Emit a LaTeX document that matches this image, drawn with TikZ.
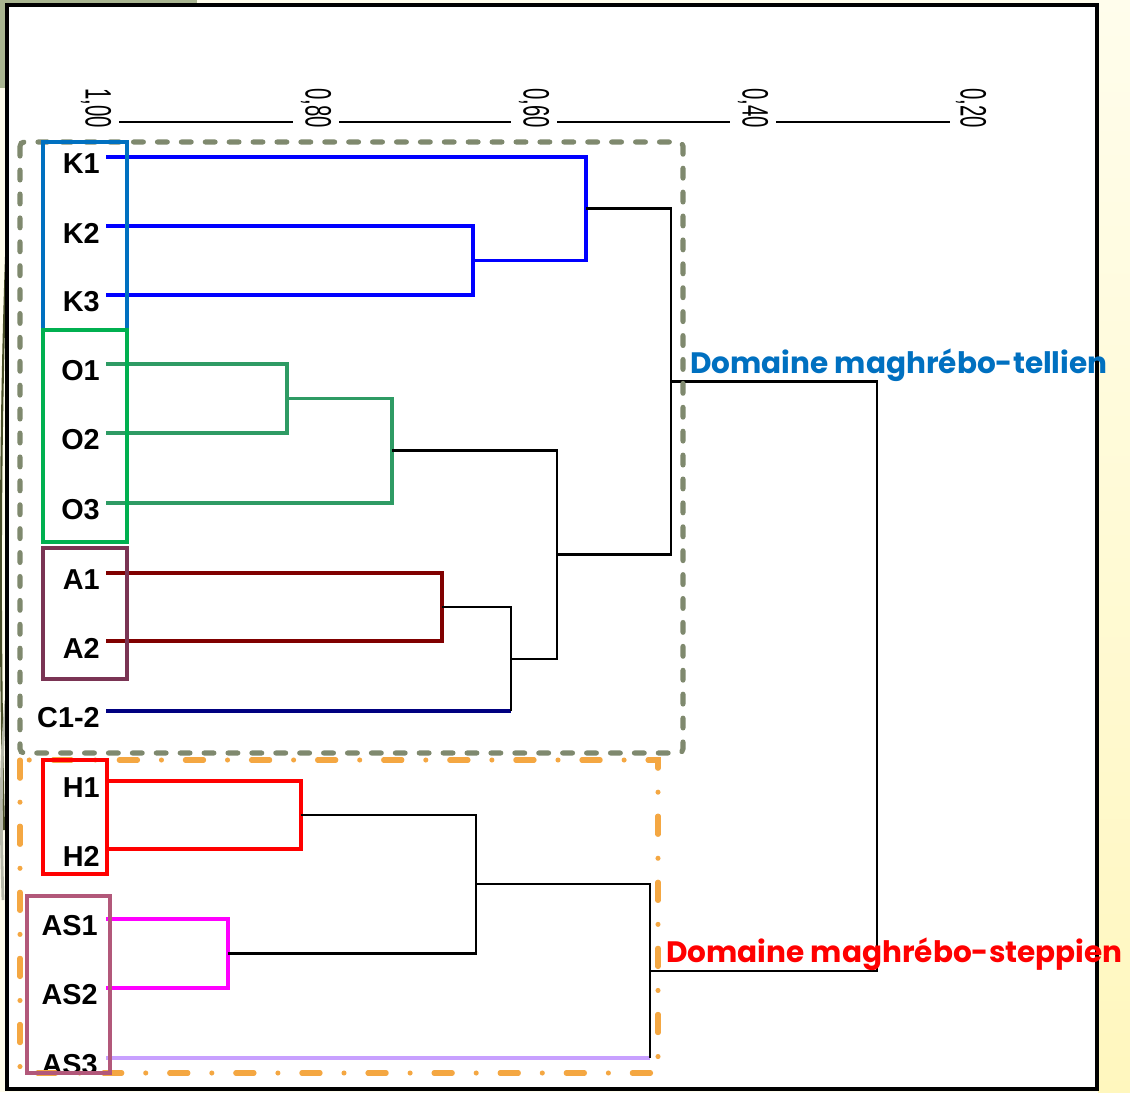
\documentclass[tikz,border=0pt]{standalone}
\usepackage{fontspec}
\setmainfont{Liberation Sans}
\newfontfamily\domfont{Poppins}
\usetikzlibrary{calc}
\definecolor{bandgreen}{RGB}{169,181,144}
\definecolor{paleyellow}{RGB}{255,253,236}
\definecolor{olivedark}{RGB}{72,78,40}
\definecolor{grpgray}{RGB}{127,137,110}
\definecolor{grporange}{RGB}{244,167,66}
\definecolor{kframe}{RGB}{0,112,192}
\definecolor{oframe}{RGB}{0,176,80}
\definecolor{aframe}{RGB}{122,52,84}
\definecolor{asframe}{RGB}{178,88,122}
\definecolor{obranch}{RGB}{46,155,100}
\definecolor{abranch}{RGB}{128,0,0}
\definecolor{cbranch}{RGB}{0,0,128}
\definecolor{asbranch}{RGB}{255,0,255}
\definecolor{as3branch}{RGB}{200,160,255}
\definecolor{domblue}{RGB}{0,112,192}
\tikzset{
  leaf/.style={anchor=east, inner sep=0pt, font=\fontsize{20.5}{23}\selectfont\bfseries},
  tick/.style={rotate=-90, inner sep=0pt, font=\fontsize{14.5}{15}\selectfont},
  dom/.style={anchor=base west, inner sep=0pt, font=\domfont\fontsize{21}{24}\selectfont\bfseries},
  branch/.style={line width=1.6pt, black},
  cbr/.style={line width=2.2pt, #1},
  labbox/.style={line width=2.3pt, draw=#1},
  grpbox/.style={line width=3.6pt, line cap=round, draw=#1}
}

\begin{document}
\begin{tikzpicture}[x=0.025cm, y=-0.025cm]
    \useasboundingbox (0,0) rectangle (1130,1092);
    % slide background
    \fill[paleyellow] (0,0) rectangle (1130,1092);
    \shade[top color=paleyellow, bottom color={rgb,255:red,255;green,247;blue,190}] (1098,0) rectangle (1130,1092);
    \fill[bandgreen] (0,0) rectangle (197,88);
    \draw[olivedark, line width=1.5pt] (7,230) .. controls (0,420) and (-1,620) .. (4,830);
    \draw[olivedark!40, line width=2pt] (6,700) .. controls (1,760) and (0,800) .. (3,900);
    \draw[line width=2.3pt, fill=white] (7,5) rectangle (1097,1089);

    % scale
    \node[tick] (t100) at (96,108) {\scalebox{1}[1.8]{1,00}};
    \node[tick] (t80) at (316,108) {\scalebox{1}[1.8]{0,80}};
    \node[tick] (t60) at (534,108) {\scalebox{1}[1.8]{0,60}};
    \node[tick] (t40) at (753,108) {\scalebox{1}[1.8]{0,40}};
    \node[tick] (t20) at (971,108) {\scalebox{1}[1.8]{0,20}};
    \draw[line width=1.6pt] ($(t100)+(23,14)$) -- ($(t80)+(-23,14)$);
    \draw[line width=1.6pt] ($(t80)+(23,14)$) -- ($(t60)+(-23,14)$);
    \draw[line width=1.6pt] ($(t60)+(23,14)$) -- ($(t40)+(-23,14)$);
    \draw[line width=1.6pt] ($(t40)+(23,14)$) -- ($(t20)+(-21,14)$);

    % leaves
    \coordinate (K1) at (106,157);
    \coordinate (K2) at (106,226);
    \coordinate (K3) at (106,295);
    \coordinate (O1) at (106,364);
    \coordinate (O2) at (106,433);
    \coordinate (O3) at (106,503);
    \coordinate (A1) at (106,573);
    \coordinate (A2) at (106,641);
    \coordinate (C12) at (106,711);
    \coordinate (H1) at (106,781);
    \coordinate (H2) at (106,849);
    \coordinate (AS1) at (106,919);
    \coordinate (AS2) at (106,988);
    \coordinate (AS3) at (106,1058);
    \node[leaf] (lK1) at (100,164) {K1};
    \node[leaf] (lK2) at (100,233) {K2};
    \node[leaf] (lK3) at (100,302) {K3};
    \node[leaf] (lO1) at (100,371) {O1};
    \node[leaf] (lO2) at (100,440) {O2};
    \node[leaf] (lO3) at (100,510) {O3};
    \node[leaf] (lA1) at (100,580) {A1};
    \node[leaf] (lA2) at (100,648) {A2};
    \node[leaf] (lC12) at (100,718) {C1-2};
    \node[leaf] (lH1) at (100,788) {H1};
    \node[leaf] (lH2) at (100,856) {H2};
    \node[leaf] (lAS1) at (98,926) {AS1};
    \node[leaf] (lAS2) at (98,995) {AS2};
    \node[leaf] (lAS3) at (98,1065) {AS3};

    % joins
    \coordinate (jK23) at (473,260.5);
    \coordinate (jK) at (586,208.5);
    \coordinate (jO12) at (287,398.5);
    \coordinate (jO) at (392,450.5);
    \coordinate (jA12) at (442,607);
    \coordinate (jAC) at (511,659);
    \coordinate (jOA) at (557,554.5);
    \coordinate (jT) at (671,381.5);
    \coordinate (jH) at (301,815);
    \coordinate (jAS12) at (228,953.5);
    \coordinate (jHAS) at (476,884);
    \coordinate (jS) at (650,971);
    \coordinate (jR) at (877,676);

    \draw[cbr=blue] (K2) -| (jK23) |- (K3);
    \draw[cbr=blue] (K1) -| (jK) |- (jK23);
    \draw[cbr=obranch] (O1) -| (jO12) |- (O2);
    \draw[cbr=obranch] (jO12) -| (jO) |- (O3);
    \draw[cbr=abranch] (A1) -| (jA12) |- (A2);
    \draw[cbr=cbranch] (C12) -- (C12 -| jAC);
    \draw[cbr=red] (H1) -| (jH) |- (H2);
    \draw[cbr=asbranch] (AS1) -| (jAS12) |- (AS2);
    \draw[cbr=as3branch] (AS3) -- (AS3 -| jS);
    \draw[branch] (jA12) -| (jAC) -- (jAC |- C12);
    \draw[branch] (jO) -| (jOA) |- (jAC);
    \draw[branch] (jK) -| (jT) |- (jOA);
    \draw[branch] (jH) -| (jHAS) |- (jAS12);
    \draw[branch] (jHAS) -| (jS) -- (jS |- AS3);
    \draw[branch] (jT) -| (jR) |- (jS);

    % domains
    \draw[grpbox=grpgray, dash pattern=on 7pt off 10pt, rounded corners=3pt] (20,142) rectangle (683,753);
    \draw[grpbox=grporange, dash pattern=on 13pt off 17pt on 0pt off 17pt] (20,760) rectangle (658,1073);
    \draw[labbox=kframe] (43,142) rectangle (127,330);
    \draw[labbox=oframe] (43,330) rectangle (127,542);
    \draw[labbox=aframe] (43,548) rectangle (127,679);
    \draw[labbox=red] (43,760) rectangle (107,874);
    \draw[labbox=asframe] (27,896) rectangle (110,1073);
    \node[dom, text=domblue] (dTell) at (690,373) {Domaine maghrébo-tellien};
    \node[dom, text=red] (dStep) at (666,962) {Domaine maghrébo-steppien};
\end{tikzpicture}
\end{document}
